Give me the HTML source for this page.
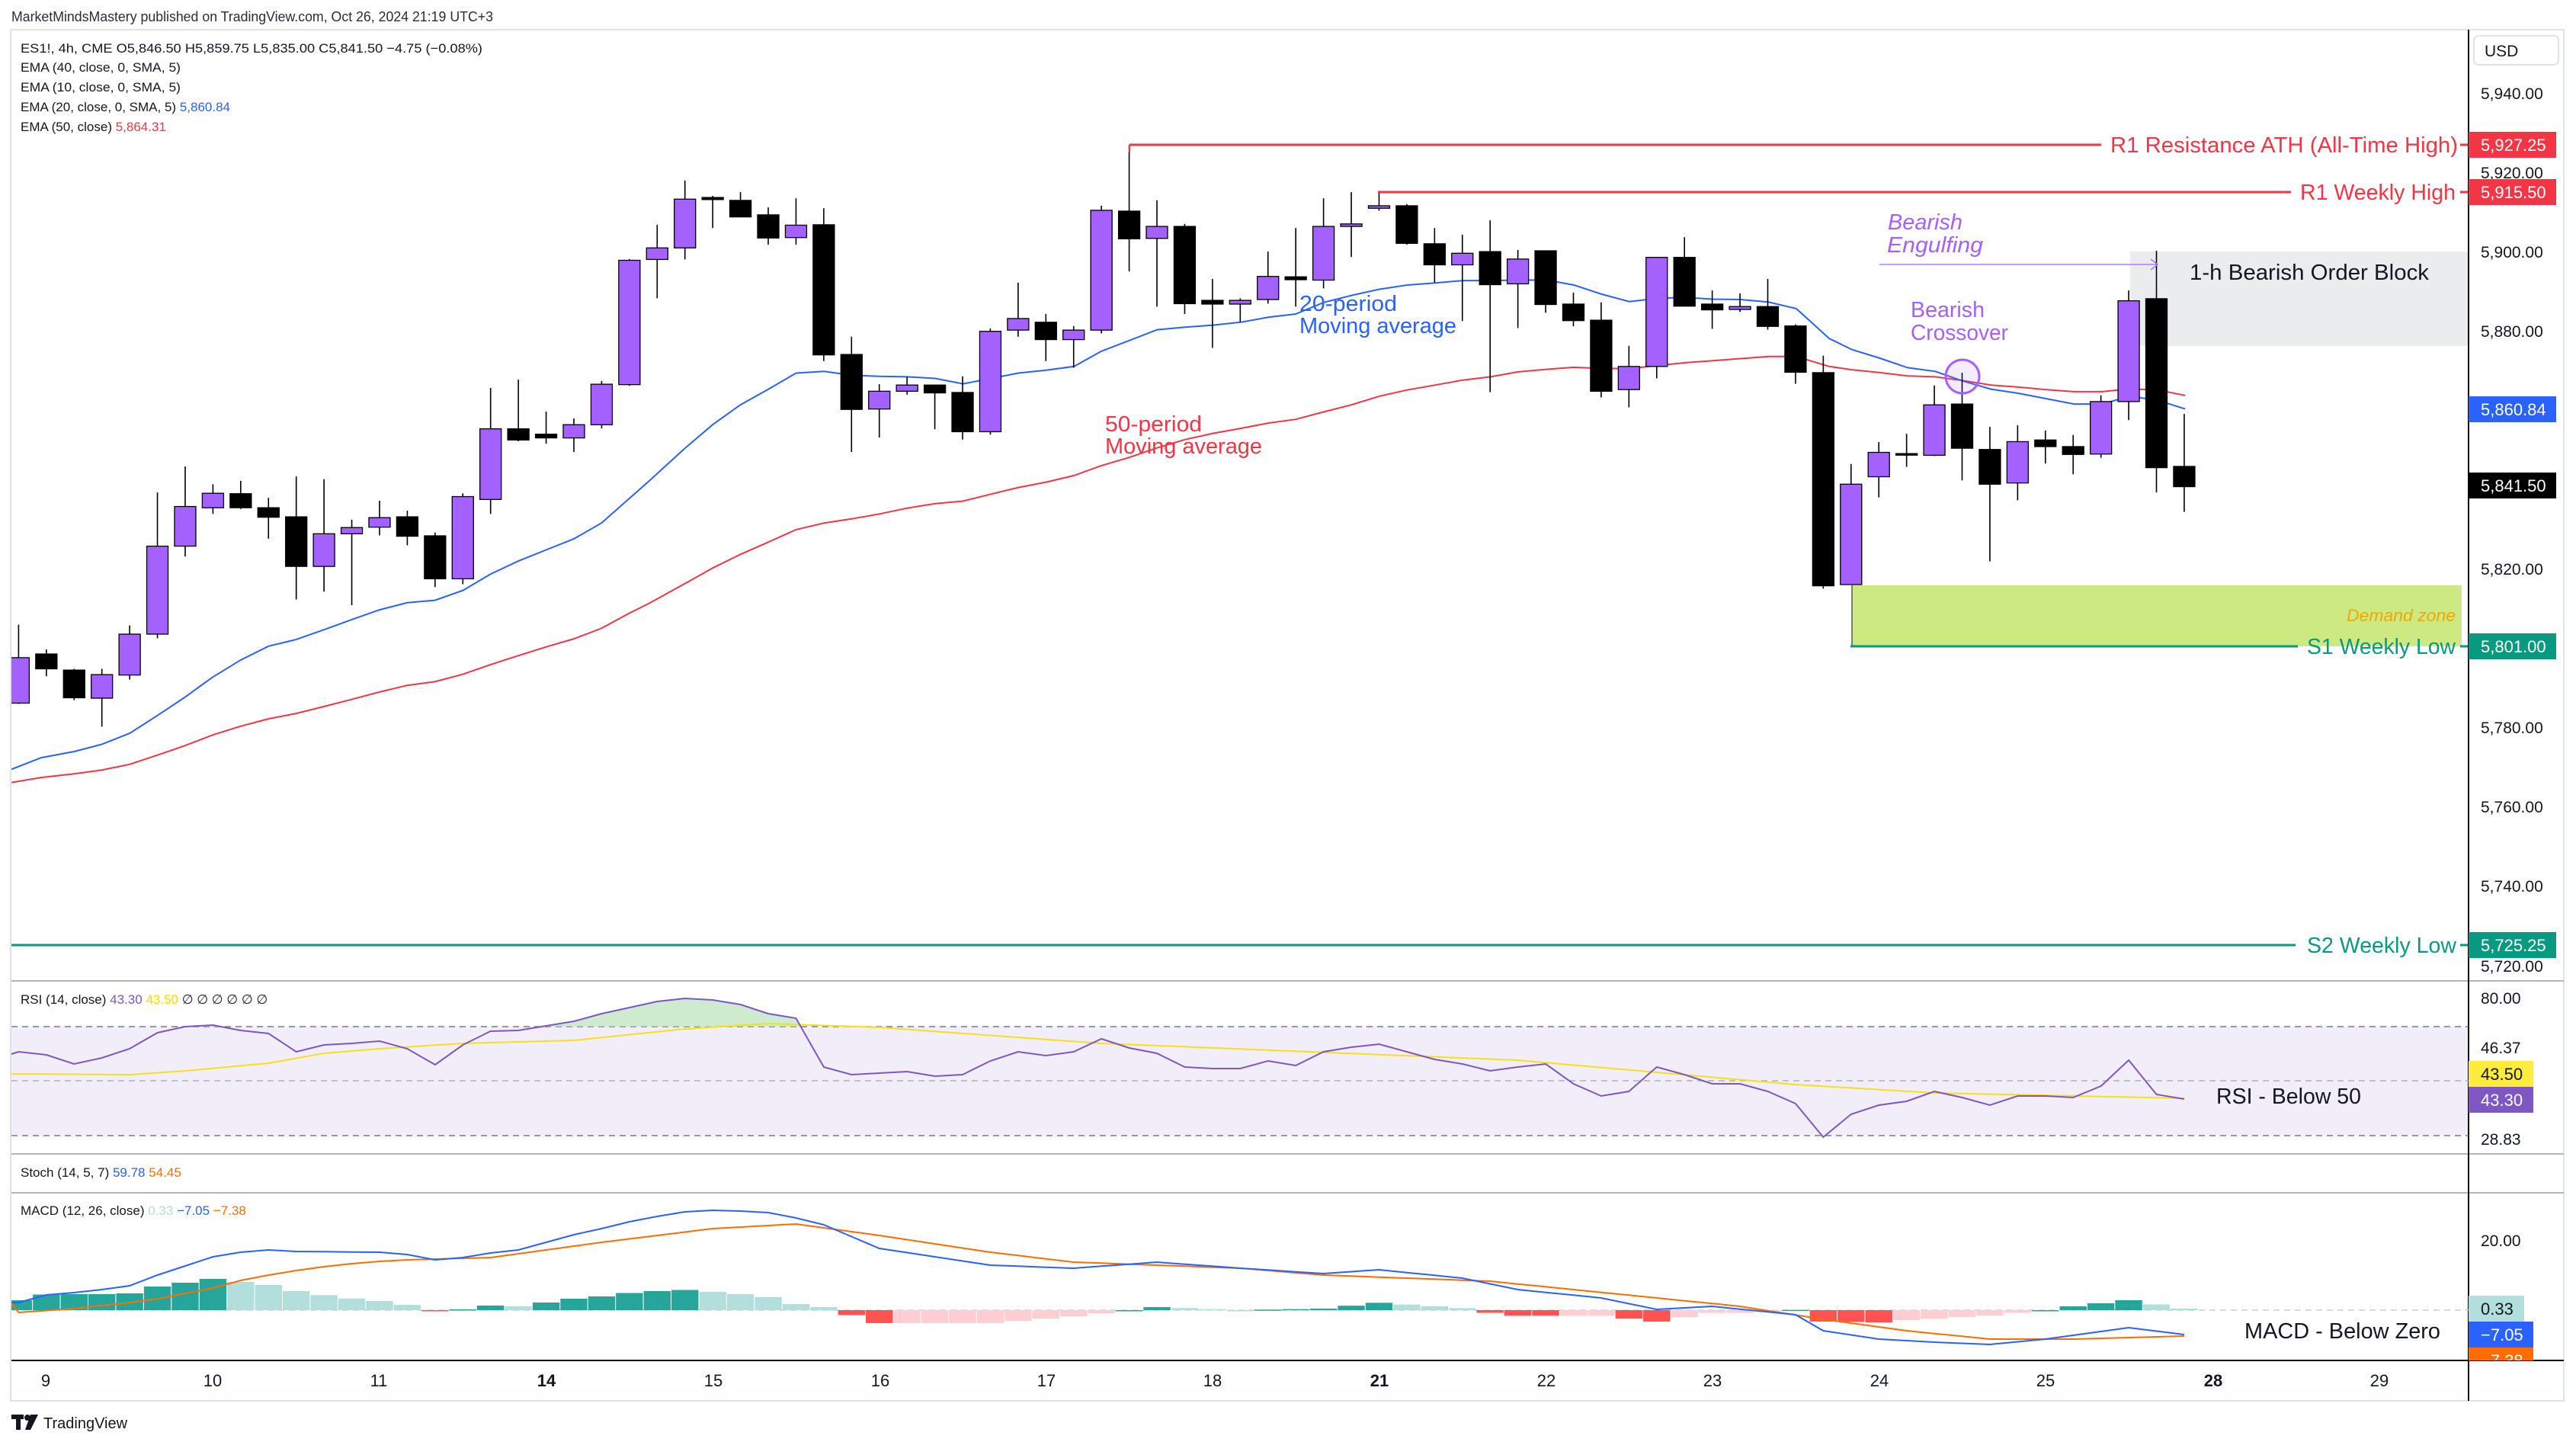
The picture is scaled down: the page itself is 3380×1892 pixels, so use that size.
<!DOCTYPE html>
<html><head><meta charset="utf-8"><style>
html,body{margin:0;padding:0;background:#fff;width:3380px;height:1892px;overflow:hidden}
svg{display:block}
text{font-family:"Liberation Sans","DejaVu Sans",sans-serif}
</style></head><body>
<svg id="s" width="3380" height="1892" viewBox="0 0 3380 1892" xmlns="http://www.w3.org/2000/svg">
<defs>
<clipPath id="mainclip"><rect x="15" y="40" width="3224" height="1247"/></clipPath>
<clipPath id="rsiclip"><rect x="15" y="1288" width="3224" height="59"/></clipPath>
<clipPath id="macdclip"><rect x="15" y="1566" width="3224" height="219"/></clipPath>
<clipPath id="axclip"><rect x="3239" y="1566" width="130" height="219"/></clipPath>
</defs>
<rect x="14" y="39" width="3350" height="1799" fill="#fff" stroke="#e0e3eb" stroke-width="2"/>
<!-- header -->
<text x="15" y="28" font-size="18" fill="#2a2e39" textLength="632" lengthAdjust="spacingAndGlyphs">MarketMindsMastery published on TradingView.com, Oct 26, 2024 21:19 UTC+3</text>
<text x="27" y="69" font-size="17" fill="#131722" textLength="606" lengthAdjust="spacingAndGlyphs">ES1!, 4h, CME  O5,846.50  H5,859.75  L5,835.00  C5,841.50  −4.75 (−0.08%)</text>
<text x="27" y="94" font-size="17" fill="#131722" textLength="210" lengthAdjust="spacingAndGlyphs">EMA (40, close, 0, SMA, 5)</text>
<text x="27" y="120" font-size="17" fill="#131722" textLength="210" lengthAdjust="spacingAndGlyphs">EMA (10, close, 0, SMA, 5)</text>
<text x="27" y="146" font-size="17" fill="#131722">EMA (20, close, 0, SMA, 5)  <tspan fill="#2962ff">5,860.84</tspan></text>
<text x="27" y="172" font-size="17" fill="#131722">EMA (50, close)  <tspan fill="#f23645">5,864.31</tspan></text>

<!-- zones -->
<rect x="2795" y="330" width="444" height="124" fill="#ebecee"/>
<rect x="2430" y="768" width="800" height="80" fill="#cde982"/>
<line x1="2430" y1="768" x2="2430" y2="848" stroke="#333" stroke-width="1.2"/>

<g id="main" clip-path="url(#mainclip)"></g>

<!-- lines -->
<line x1="1482" y1="190" x2="2757" y2="190" stroke="#f23645" stroke-width="3"/>
<line x1="1482" y1="190" x2="1482" y2="200" stroke="#f23645" stroke-width="2"/>
<line x1="1808" y1="252" x2="3006" y2="252" stroke="#f23645" stroke-width="3"/>
<line x1="2428" y1="848" x2="3015" y2="848" stroke="#089981" stroke-width="3"/>
<line x1="15" y1="1240" x2="3012" y2="1240" stroke="#089981" stroke-width="3"/>
<line x1="3228" y1="190" x2="3239" y2="190" stroke="#f23645" stroke-width="3"/>
<line x1="3228" y1="252" x2="3239" y2="252" stroke="#f23645" stroke-width="3"/>
<line x1="3228" y1="848" x2="3239" y2="848" stroke="#089981" stroke-width="3"/>
<line x1="3228" y1="1240" x2="3239" y2="1240" stroke="#089981" stroke-width="3"/>

<text x="2769" y="200" font-size="29" fill="#f23645" textLength="456" lengthAdjust="spacingAndGlyphs">R1 Resistance ATH (All-Time High)</text>
<text x="3018" y="262" font-size="29" fill="#f23645" textLength="204" lengthAdjust="spacingAndGlyphs">R1 Weekly High</text>
<text x="3027" y="858" font-size="29" fill="#089981" textLength="195" lengthAdjust="spacingAndGlyphs">S1 Weekly Low</text>
<text x="3027" y="1250" font-size="29" fill="#089981" textLength="196" lengthAdjust="spacingAndGlyphs">S2 Weekly Low</text>
<text x="3079" y="815" font-size="22" font-style="italic" fill="#f0a800" textLength="143" lengthAdjust="spacingAndGlyphs">Demand zone</text>
<text x="2873" y="367" font-size="29" fill="#131722" textLength="314" lengthAdjust="spacingAndGlyphs">1-h Bearish Order Block</text>
<text x="2477" y="301" font-size="29" font-style="italic" fill="#a461fd" textLength="98" lengthAdjust="spacingAndGlyphs">Bearish</text>
<text x="2476" y="331" font-size="29" font-style="italic" fill="#a461fd" textLength="126" lengthAdjust="spacingAndGlyphs">Engulfing</text>
<line x1="2466" y1="347" x2="2831" y2="347" stroke="#a461fd" stroke-width="1.3"/>
<polyline points="2822,340 2831,347 2822,354" fill="none" stroke="#a461fd" stroke-width="1.3"/>
<text x="2507" y="416" font-size="29" fill="#a461fd" textLength="97" lengthAdjust="spacingAndGlyphs">Bearish</text>
<text x="2507" y="446" font-size="29" fill="#a461fd" textLength="128" lengthAdjust="spacingAndGlyphs">Crossover</text>
<circle cx="2575" cy="494" r="22" fill="rgba(164,97,253,0.12)" stroke="#a461fd" stroke-width="3"/>
<text x="1705" y="408" font-size="29" fill="#2962ff" textLength="128" lengthAdjust="spacingAndGlyphs">20-period</text>
<text x="1705" y="437" font-size="29" fill="#2962ff" textLength="206" lengthAdjust="spacingAndGlyphs">Moving average</text>
<text x="1450" y="566" font-size="29" fill="#f23645" textLength="127" lengthAdjust="spacingAndGlyphs">50-period</text>
<text x="1450" y="595" font-size="29" fill="#f23645" textLength="206" lengthAdjust="spacingAndGlyphs">Moving average</text>

<!-- pane separators -->
<line x1="15" y1="1287" x2="3364" y2="1287" stroke="#b2b5be" stroke-width="2"/>
<line x1="15" y1="1514" x2="3364" y2="1514" stroke="#b2b5be" stroke-width="2"/>
<line x1="15" y1="1565" x2="3364" y2="1565" stroke="#b2b5be" stroke-width="2"/>
<line x1="15" y1="1785" x2="3364" y2="1785" stroke="#000" stroke-width="2"/>
<line x1="3239" y1="39" x2="3239" y2="1838" stroke="#000" stroke-width="2"/>

<!-- RSI pane -->
<rect x="15" y="1347" width="3224" height="143" fill="#7e57c2" fill-opacity="0.1"/>
<line x1="15" y1="1347" x2="3239" y2="1347" stroke="#787b86" stroke-width="1.5" stroke-dasharray="8,6"/>
<line x1="15" y1="1418" x2="3239" y2="1418" stroke="#a0a3ab" stroke-width="1.2" stroke-dasharray="8,6"/>
<line x1="15" y1="1490" x2="3239" y2="1490" stroke="#787b86" stroke-width="1.5" stroke-dasharray="8,6"/>
<g id="rsi"></g>
<text x="27" y="1317" font-size="17" fill="#131722">RSI (14, close)  <tspan fill="#7e57c2">43.30</tspan>  <tspan fill="#f5d90a">43.50</tspan>  ∅  ∅  ∅  ∅  ∅  ∅</text>
<text x="2908" y="1448" font-size="29" fill="#131722" textLength="190" lengthAdjust="spacingAndGlyphs">RSI - Below 50</text>
<text x="27" y="1544" font-size="17" fill="#131722">Stoch (14, 5, 7)  <tspan fill="#2962ff">59.78</tspan>  <tspan fill="#ff6d00">54.45</tspan></text>

<!-- MACD pane -->
<line x1="15" y1="1719" x2="3239" y2="1719" stroke="#c0c3cb" stroke-width="1.2" stroke-dasharray="8,6"/>
<g id="macd" clip-path="url(#macdclip)"></g>
<text x="27" y="1594" font-size="17" fill="#131722">MACD (12, 26, close)  <tspan fill="#b2dfdb">0.33</tspan>  <tspan fill="#2962ff">−7.05</tspan>  <tspan fill="#ff6d00">−7.38</tspan></text>
<text x="2945" y="1756" font-size="29" fill="#131722" textLength="257" lengthAdjust="spacingAndGlyphs">MACD - Below Zero</text>

<!-- price axis -->
<rect x="3246" y="47" width="111" height="38" rx="6" fill="#fff" stroke="#e0e3eb" stroke-width="2"/>
<text x="3260" y="74" font-size="21" fill="#131722">USD</text>
<g font-size="21" fill="#131722">
<text x="3255" y="130">5,940.00</text>
<text x="3255" y="234">5,920.00</text>
<text x="3255" y="338">5,900.00</text>
<text x="3255" y="442">5,880.00</text>
<text x="3255" y="754">5,820.00</text>
<text x="3255" y="962">5,780.00</text>
<text x="3255" y="1066">5,760.00</text>
<text x="3255" y="1170">5,740.00</text>
<text x="3255" y="1275">5,720.00</text>
<text x="3255" y="1317">80.00</text>
<text x="3255" y="1382">46.37</text>
<text x="3255" y="1502">28.83</text>
<text x="3255" y="1635">20.00</text>
</g>
<g font-size="22">
<rect x="3239" y="173" width="115" height="34" fill="#f23645"/><text x="3255" y="198" fill="#fff">5,927.25</text>
<rect x="3239" y="235" width="115" height="34" fill="#f23645"/><text x="3255" y="260" fill="#fff">5,915.50</text>
<rect x="3239" y="520" width="115" height="34" fill="#2962ff"/><text x="3255" y="545" fill="#fff">5,860.84</text>
<rect x="3239" y="620" width="115" height="34" fill="#000"/><text x="3255" y="645" fill="#fff">5,841.50</text>
<rect x="3239" y="831" width="115" height="34" fill="#089981"/><text x="3255" y="856" fill="#fff">5,801.00</text>
<rect x="3239" y="1223" width="115" height="34" fill="#089981"/><text x="3255" y="1248" fill="#fff">5,725.25</text>
<rect x="3239" y="1392" width="85" height="34" fill="#ffeb3b"/><text x="3255" y="1417" fill="#131722">43.50</text>
<rect x="3239" y="1426" width="85" height="34" fill="#7e57c2"/><text x="3255" y="1451" fill="#fff">43.30</text>
<g clip-path="url(#axclip)">
<rect x="3239" y="1700" width="73" height="34" fill="#b2dfdb"/><text x="3255" y="1725" fill="#131722">0.33</text>
<rect x="3239" y="1734" width="85" height="34" fill="#2962ff"/><text x="3255" y="1759" fill="#fff">−7.05</text>
<rect x="3239" y="1768" width="85" height="34" fill="#ff6d00"/><text x="3255" y="1793" fill="#fff">−7.38</text>
</g>
</g>

<!-- time axis -->
<g font-size="22" fill="#131722" text-anchor="middle">
<text x="60" y="1819">9</text>
<text x="279" y="1819">10</text>
<text x="497" y="1819">11</text>
<text x="717" y="1819" font-weight="bold">14</text>
<text x="936" y="1819">15</text>
<text x="1155" y="1819">16</text>
<text x="1373" y="1819">17</text>
<text x="1591" y="1819">18</text>
<text x="1810" y="1819" font-weight="bold">21</text>
<text x="2029" y="1819">22</text>
<text x="2247" y="1819">23</text>
<text x="2466" y="1819">24</text>
<text x="2684" y="1819">25</text>
<text x="2904" y="1819" font-weight="bold">28</text>
<text x="3122" y="1819">29</text>
</g>
<!-- logo -->
<g fill="#131722">
<rect x="15" y="1856" width="16" height="6"/><rect x="21" y="1856" width="6" height="20"/>
<circle cx="36" cy="1860" r="4"/><polygon points="40,1856 50,1856 40,1876 33,1876"/>
</g>
<text x="57" y="1874" font-size="20" fill="#131722">TradingView</text>
</svg>
<script>
(function(){
var NS="http://www.w3.org/2000/svg";
function el(p,t,a){var e=document.createElementNS(NS,t);for(var k in a)e.setAttribute(k,a[k]);p.appendChild(e);return e;}
var Y=function(z){return 180+z/1.845;};
var CX=function(i){return 24.4+i*36.43;};
var C=[[1260,1370,1180,1372,'P'],[1251,1287,1240,1305,'B'],[1290,1357,1287,1363,'B'],[1301,1358,1287,1427,'P'],[1203,1302,1182,1313,'P'],[990,1203,860,1213,'P'],[894,990,797,1015,'P'],[862,897,840,912,'P'],[863,897,832,900,'B'],[897,920,873,972,'B'],[919,1039,821,1119,'B'],[960,1039,828,1100,'P'],[945,960,926,1133,'P'],[921,944,880,964,'P'],[919,966,904,988,'B'],[965,1069,957,1089,'B'],[870,1069,862,1082,'P'],[706,877,607,912,'P'],[706,733,587,736,'B'],[719,728,664,742,'B'],[696,728,681,762,'P'],[598,696,590,705,'P'],[298,599,295,602,'P'],
[268,296,212,390,'P'],[150,268,105,296,'P'],[146,151,142,220,'B'],[153,193,133,193,'B'],[188,244,170,260,'B'],[213,243,148,260,'P'],[212,527,172,542,'B'],[526,659,483,762,'B'],[615,658,598,727,'P'],[600,615,580,623,'P'],[600,619,600,707,'B'],[618,713,579,732,'B'],[470,713,463,720,'P'],[439,467,352,483,'P'],[448,490,428,542,'B'],[467,490,457,558,'P'],[177,467,166,475,'P'],[179,246,18,325,'B'],[216,245,153,410,'P'],[216,403,210,428,'B'],[395,404,343,510,'B'],[395,404,390,447,'P'],[337,393,277,403,'P'],
[338,345,220,410,'B'],[216,346,148,366,'P'],[210,216,133,290,'P'],[166,172,130,178,'P'],[166,257,162,260,'B'],[258,309,220,352,'B'],[281,309,236,445,'P'],[277,357,201,617,'B'],[295,355,273,462,'P'],[275,405,275,425,'B'],[404,444,376,458,'B'],[443,615,400,630,'B'],[555,611,505,654,'P'],[291,555,290,584,'P'],[291,409,242,410,'B'],[404,418,371,464,'B'],[410,417,378,423,'P'],[410,458,343,466,'B'],[457,569,453,597,'B'],[570,1086,529,1093,'B'],[840,1083,791,1083,'P'],[763,822,738,872,'P'],[766,769,718,798,'B'],[648,770,601,772,'P'],
[646,753,570,831,'B'],[756,840,701,1027,'B'],[737,837,697,879,'P'],[733,749,710,790,'B'],[749,768,721,816,'B'],[640,767,625,776,'P'],[396,640,371,685,'P'],[391,800,275,860,'B'],[797,846,670,907,'B']];
var g=document.getElementById('main');
function line(parts,color){var pts=[];parts.forEach(function(p){var X0=p[0];p[1].forEach(function(q){pts.push((X0+q[0]/1.845).toFixed(1)+','+Y(q[1]).toFixed(1));});});el(g,'polyline',{points:pts.join(' '),fill:'none',stroke:color,'stroke-width':2});}
line([[0,[[28,1562],[100,1550],[180,1541],[246,1532],[314,1518],[381,1496],[447,1473],[515,1447],[582,1426],[650,1408],[717,1395],[785,1378],[851,1361],[919,1343],[986,1327],[1053,1318],[1121,1300],[1187,1277],[1255,1255],[1322,1234],[1390,1214],[1456,1189],[1524,1152]]],[850,[[0,1130],[91,1080],[157,1043],[224,1010],[292,980],[359,950],[427,934],[493,924],[561,912],[628,898],[696,887],[763,881],[831,864],[897,848],[964,835],[1032,819],[1098,795],[1166,775],[1233,752],[1301,732],[1368,717],[1435,705],[1502,692]]],[1700,[[0,683],[68,665],[135,648],[203,627],[270,612],[338,600],[405,588],[472,580],[539,568],[607,562],[674,557],[741,560],[808,560],[875,553],[943,546],[1010,541],[1077,536],[1144,531],[1212,531]]],[2400,[[0,555],[55,563],[123,570],[190,578],[257,580],[323,589],[392,600],[458,605],[526,611],[593,616],[661,616],[728,609],[796,612],[862,625]]]],'#f23645');
line([[0,[[28,1530],[100,1502],[180,1487],[246,1470],[314,1443],[381,1400],[447,1356],[515,1307],[582,1266],[650,1232],[717,1216],[785,1192],[851,1168],[919,1144],[986,1127],[1053,1121],[1121,1097],[1187,1058],[1255,1026],[1322,999],[1390,972],[1456,934],[1524,874]]],[850,[[0,835],[91,752],[157,696],[224,648],[292,610],[359,571],[427,567],[493,576],[561,579],[628,580],[696,584],[763,597],[831,584],[897,571],[964,564],[1032,555],[1098,518],[1166,492],[1233,466],[1301,460],[1368,455],[1435,448],[1502,436]]],[1700,[[0,428],[68,400],[135,383],[203,368],[270,358],[338,353],[405,347],[472,347],[539,346],[607,346],[674,358],[741,380],[808,398],[875,390],[943,388],[1010,392],[1077,393],[1144,399],[1212,415]]],[2400,[[0,487],[55,514],[123,535],[190,558],[257,567],[323,590],[392,610],[458,620],[526,633],[593,646],[661,646],[728,627],[796,637],[862,658]]]],'#2962ff');
C.forEach(function(c,i){var x=CX(i);el(g,'line',{x1:x,y1:Y(c[2]),x2:x,y2:Y(c[3]),stroke:'#000','stroke-width':1.6});
var t=Y(c[0]),b=Y(c[1]);if(b-t<2)b=t+2;el(g,'rect',{x:x-14,y:t,width:28,height:b-t,fill:c[4]=='P'?'#a461fd':'#000',stroke:'#000','stroke-width':1.3});});
// interpolation helper
function interp(ctrl,n){var out=[];for(var i=1;i<=n;i++){for(var k=0;k<ctrl.length-1;k++){var a=ctrl[k],b=ctrl[k+1];if(i>=a[0]&&i<=b[0]){out.push(a[1]+(b[1]-a[1])*(i-a[0])/(b[0]-a[0]));break;}}}return out;}
// RSI
var R=[1380,1384,1396,1388,1376,1355,1347,1345,1352,1356,1380,1371,1369,1366,1376,1397,1371,1353,1352,1346,1340,1330,1322,1314,1310,1312,1318,1330,1336,1400,1410,1408,1406,1412,1410,1392,1380,1385,1380,1363,1375,1382,1400,1402,1402,1392,1398,1380,1374,1370,1380,1390,1396,1405,1400,1396,1422,1438,1432,1400,1410,1422,1422,1432,1448,1492,1462,1450,1445,1432,1440,1450,1438,1438,1440,1425,1391,1436,1442];
var rg=document.getElementById('rsi');
var pts=['15,1383'];R.forEach(function(v,i){pts.push(CX(i).toFixed(1)+','+v);});
var fillPts='15,1347 '+pts.join(' ')+' '+CX(78).toFixed(1)+',1347';
el(rg,'polygon',{points:fillPts,fill:'#b9e3bc','fill-opacity':0.7,'clip-path':'url(#rsiclip)'});
var M=interp([[1,1409],[5,1410],[7,1405],[10,1395],[12,1382],[14,1376],[17,1369],[21,1365],[25,1350],[28,1343],[32,1348],[40,1369],[55,1391],[65,1423],[70,1434],[79,1441]],79);
var mp=['15,1409'];M.forEach(function(v,i){mp.push(CX(i).toFixed(1)+','+v.toFixed(1));});
el(rg,'polyline',{points:mp.join(' '),fill:'none',stroke:'#f5e01a','stroke-width':2});
el(rg,'polyline',{points:pts.join(' '),fill:'none',stroke:'#7e57c2','stroke-width':2});
// MACD
var B=interp([[1,1709],[2,1699],[3,1696],[4,1692],[5,1687],[6,1673],[7,1661],[8,1649],[9,1643],[10,1640],[11,1642],[14,1643],[15,1646],[16,1653],[17,1650],[18,1644],[19,1640],[20,1630],[21,1620],[22,1612],[23,1603],[24,1596],[25,1590],[26,1588],[27,1589],[28,1591],[29,1598],[30,1607],[32,1638],[36,1660],[39,1664],[42,1656],[45,1664],[48,1671],[50,1666],[53,1677],[55,1692],[58,1703],[60,1718],[62,1714],[65,1725],[66,1746],[68,1757],[70,1761],[72,1764],[74,1757],[77,1742],[79,1751]],79);
var O=interp([[1,1722],[3,1717],[4,1713],[5,1709],[6,1704],[7,1697],[8,1690],[9,1680],[10,1673],[11,1667],[12,1662],[13,1658],[14,1655],[15,1653],[16,1652],[17,1651],[18,1650],[22,1630],[26,1612],[29,1606],[32,1621],[36,1643],[39,1656],[42,1660],[45,1664],[48,1673],[51,1677],[54,1681],[57,1692],[60,1703],[63,1714],[66,1731],[69,1746],[72,1757],[75,1757],[79,1753]],79);
var mg=document.getElementById('macd');var prev=0;
for(var i=0;i<79;i++){var h=O[i]-B[i];var col;if(h>=0)col=(h>=prev)?'#26a69a':'#b2dfdb';else col=(h<prev)?'#ff5252':'#ffcdd2';prev=h;
var x=CX(i);var y0=1719,y1=1719-h;el(mg,'rect',{x:x-17.7,y:Math.min(y0,y1),width:35.4,height:Math.max(Math.abs(h),1.5),fill:col});}
var bp=[],op=[];for(i=0;i<79;i++){bp.push(CX(i).toFixed(1)+','+B[i].toFixed(1));op.push(CX(i).toFixed(1)+','+O[i].toFixed(1));}
el(mg,'polyline',{points:'15,1710 '+op.join(' '),fill:'none',stroke:'#ff6d00','stroke-width':2});
el(mg,'polyline',{points:'15,1709 '+bp.join(' '),fill:'none',stroke:'#2962ff','stroke-width':2});
})();
</script>
</body></html>
